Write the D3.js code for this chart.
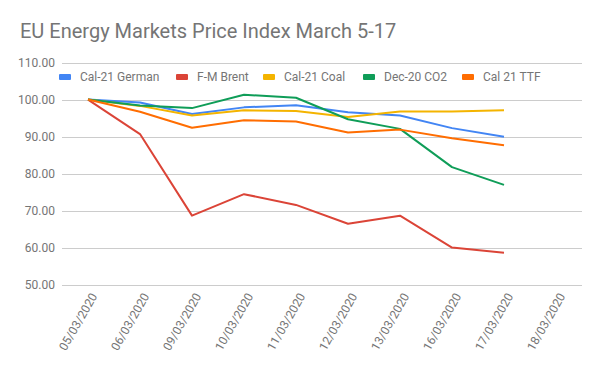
<!DOCTYPE html>
<html lang="en">
<head>
<meta charset="utf-8">
<title>EU Energy Markets Price Index</title>
<script src="https://d3js.org/d3.v7.min.js"></script>
<style>
    body { margin: 0; background: #fff; }
    svg text { font-family: Roboto, "Noto Sans", sans-serif; }
    .grid line { stroke: #cccccc; stroke-width: 1; }
    .axis text { fill: #757575; font-size: 12px; }
    path.line { fill: none; stroke-width: 2; stroke-linejoin: round; }
</style>
</head>
<body>
<div id="divChart"></div>
<script>

// category labels (x axis)
const dates = ["05/03/2020", "06/03/2020", "09/03/2020", "10/03/2020", "11/03/2020",
               "12/03/2020", "13/03/2020", "16/03/2020", "17/03/2020", "18/03/2020"];

// series values (no value for 18/03)
const cal21German = [100, 99.2, 96.1, 97.9, 98.5, 96.6, 95.7, 92.3, 90.0];
const fmBrent     = [100, 90.7, 68.7, 74.5, 71.6, 66.5, 68.7, 60.1, 58.7];
const cal21Coal   = [100, 98.3, 95.7, 97.1, 96.9, 95.3, 96.8, 96.8, 97.1];
const dec20CO2    = [100, 98.4, 97.7, 101.3, 100.5, 94.7, 92.1, 81.8, 77.0];
const cal21TTF    = [100, 96.7, 92.4, 94.4, 94.1, 91.1, 91.9, 89.6, 87.7];

const seriesNames = ["Cal-21 German", "F-M Brent", "Cal-21 Coal", "Dec-20 CO2", "Cal 21 TTF"];
const seriesColors = ["#4285f4", "#db4437", "#f4b400", "#0f9d58", "#ff6d01"];
const yTicks = [50, 60, 70, 80, 90, 100, 110];

const series = [cal21German, fmBrent, cal21Coal, dec20CO2, cal21TTF].map((v, i) => ({
    name: seriesNames[i], color: seriesColors[i], values: v
}));

const W = 600, H = 371;
const margin = {top: 62.5, right: 18, bottom: 86, left: 62};

const svg = d3.select("#divChart").append("svg")
    .attr("width", W).attr("height", H);

const x = d3.scaleBand()
    .domain(dates)
    .range([margin.left, W - margin.right]);

const y = d3.scaleLinear()
    .domain([50, 110])
    .range([H - margin.bottom, margin.top]);

// title
svg.append("text")
    .attr("x", 20).attr("y", 38)
    .attr("font-size", "20px")
    .attr("fill", "#757575")
    .text("EU Energy Markets Price Index March 5-17");

// gridlines + y labels
const grid = svg.append("g").attr("class", "grid");
grid.selectAll("line").data(yTicks).join("line")
    .attr("x1", margin.left).attr("x2", W - margin.right)
    .attr("y1", d => Math.round(y(d)) + 0.5).attr("y2", d => Math.round(y(d)) + 0.5);

const yAxis = svg.append("g").attr("class", "axis");
yAxis.selectAll("text").data(yTicks).join("text")
    .attr("x", 55).attr("y", d => y(d))
    .attr("dy", "0.35em")
    .attr("text-anchor", "end")
    .text(d => d3.format(".2f")(d));

// x labels, rotated
const xAxis = svg.append("g").attr("class", "axis");
xAxis.selectAll("text").data(dates).join("text")
    .attr("transform", d => "translate(" + (x(d) + x.bandwidth() / 2 + 6) + "," + 294 + ") rotate(-60)")
    .attr("text-anchor", "end")
    .attr("dy", "0.35em")
    .text(d => d);

// lines
const line = d3.line()
    .x((d, i) => x(dates[i]) + x.bandwidth() / 2)
    .y(d => y(d));

svg.append("g").selectAll("path").data(series).join("path")
    .attr("class", "line")
    .attr("stroke", d => d.color)
    .attr("d", d => line(d.values));

// legend
const legendX = [59, 176, 263, 363, 462];
const legend = svg.append("g").selectAll("g").data(series).join("g")
    .attr("transform", (d, i) => "translate(" + legendX[i] + ",77)");
legend.append("rect")
    .attr("x", 0).attr("y", -3)
    .attr("width", 12).attr("height", 6)
    .attr("rx", 1)
    .attr("fill", d => d.color);
legend.append("text")
    .attr("x", 21).attr("dy", "0.35em")
    .attr("font-size", "12px")
    .attr("fill", "#757575")
    .text(d => d.name);

</script>
</body>
</html>
